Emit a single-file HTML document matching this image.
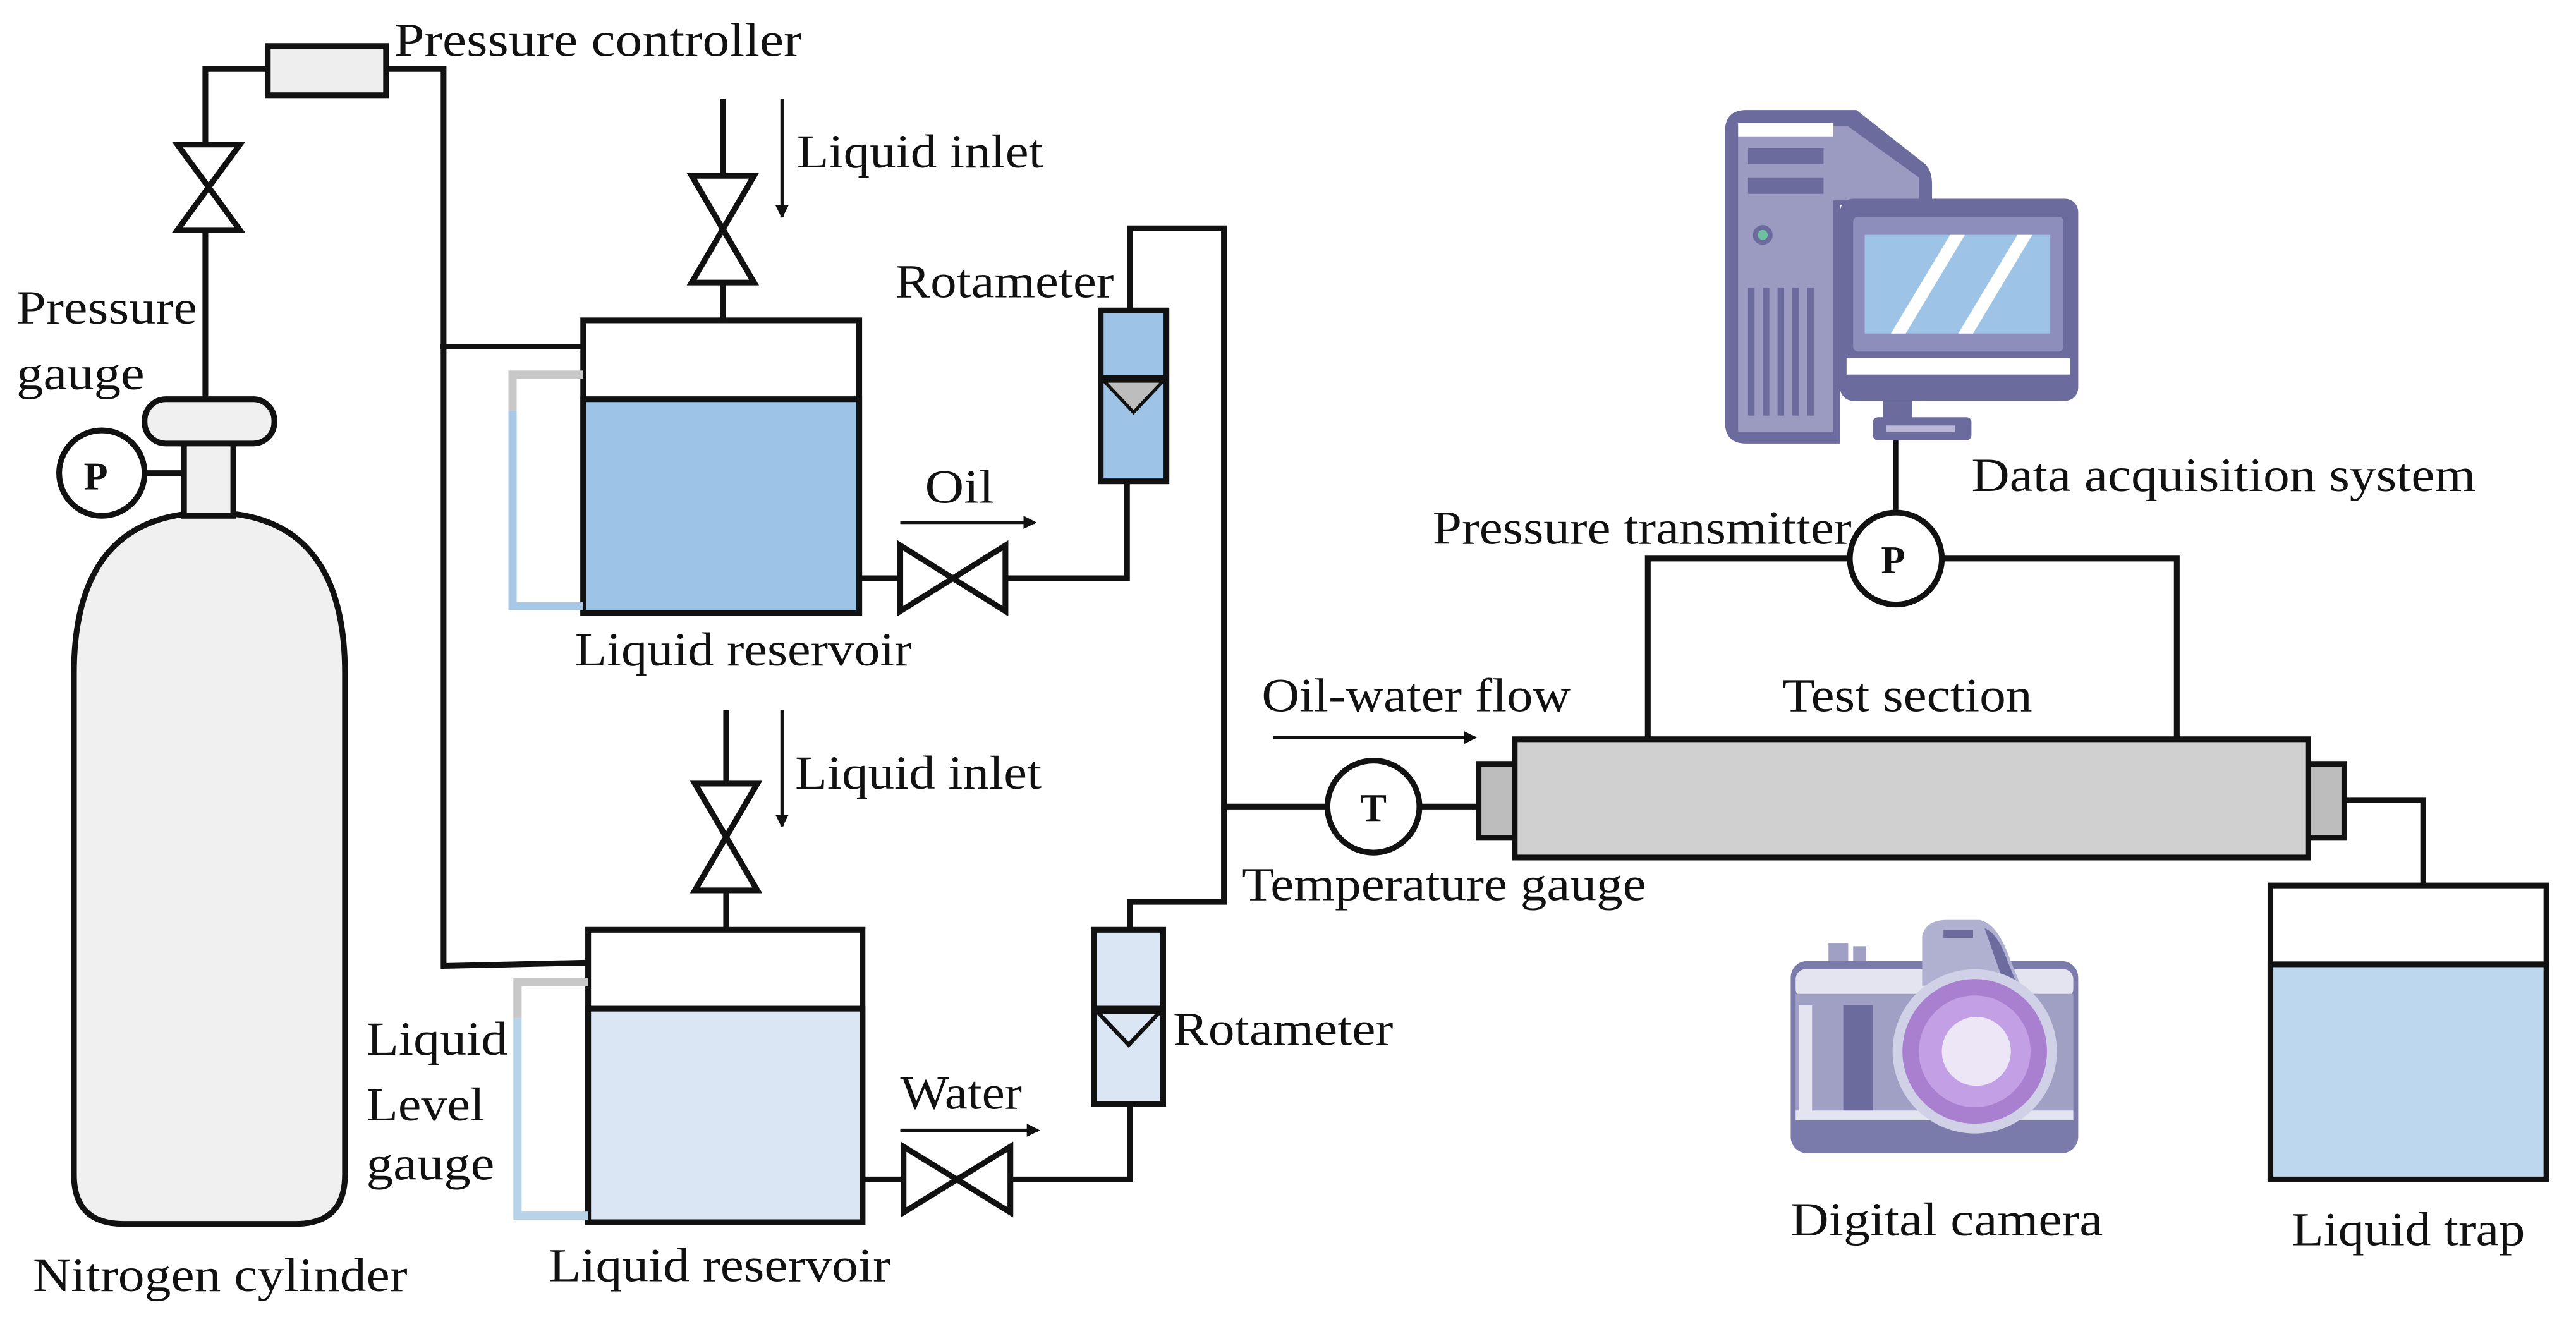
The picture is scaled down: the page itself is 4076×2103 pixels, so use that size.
<!DOCTYPE html>
<html><head><meta charset="utf-8"><style>
html,body{margin:0;padding:0;background:#fff;}
svg{display:block;}
text{font-family:"Liberation Serif","Times New Roman",serif;font-size:29px;fill:#111;}
</style></head><body>
<svg width="4076" height="2103" viewBox="0 0 1568 809" preserveAspectRatio="none" xmlns="http://www.w3.org/2000/svg" font-family="Liberation Serif, serif">
<defs>
<marker id="ah" markerWidth="8" markerHeight="8" refX="7" refY="4" orient="auto" markerUnits="userSpaceOnUse"><path d="M0,0 L8,4 L0,8 z" fill="#111"/></marker>
</defs>
<g stroke="#111" stroke-width="3.5" fill="none">
<!-- cylinder -->
<path d="M128,312 Q210,312 210,410 L210,715 Q210,745 180,745 L75,745 Q45,745 45,715 L45,410 Q45,312 128,312 Z" fill="#f0f0f0"/>
<rect x="112" y="266" width="30" height="48" fill="#f0f0f0"/>
<rect x="88" y="243" width="79" height="27" rx="13" fill="#f0f0f0"/>
<circle cx="62" cy="288" r="26" fill="#fff"/>
<line x1="88" y1="288" x2="112" y2="288"/>
<!-- gas line -->
<polyline points="125,243 125,140"/>
<path d="M108,88 L146,88 L108,140 L146,140 Z" fill="#fff"/>
<polyline points="125,88 125,42 163,42"/>
<rect x="163" y="28" width="72" height="30" fill="#eee"/>
<polyline points="235,42 270,42 270,588 358,586"/>
<line x1="268" y1="211" x2="355" y2="211"/>
<!-- upper reservoir -->
<rect x="355" y="195" width="168" height="178" fill="#fff"/>
<rect x="355" y="243" width="168" height="130" fill="#9dc3e6"/>
<!-- upper inlet -->
<line x1="440" y1="60" x2="440" y2="107"/>
<path d="M421,107 L459,107 L421,172 L459,172 Z" fill="#fff"/>
<line x1="440" y1="172" x2="440" y2="195"/>
<line x1="476" y1="60" x2="476" y2="132" stroke-width="2" marker-end="url(#ah)"/>
<!-- oil line -->
<line x1="523" y1="352" x2="548" y2="352"/>
<path d="M548,332 L548,372 L612,332 L612,372 Z" fill="#fff"/>
<polyline points="612,352 686,352 686,293"/>
<line x1="548" y1="318" x2="630" y2="318" stroke-width="2" marker-end="url(#ah)"/>
<rect x="670" y="189" width="40" height="104" fill="#9dc3e6"/>
<line x1="670" y1="230" x2="710" y2="230"/>
<path d="M672,232 L708,232 L690,251 Z" fill="#bdbdbd" stroke-width="2"/>
<polyline points="688,189 688,139 745,139 745,491 808,491"/>
<!-- lower reservoir -->
<rect x="358" y="566" width="167" height="178" fill="#fff"/>
<rect x="358" y="614" width="167" height="130" fill="#dae6f3"/>
<line x1="442" y1="432" x2="442" y2="477"/>
<path d="M423,477 L461,477 L423,542 L461,542 Z" fill="#fff"/>
<line x1="442" y1="542" x2="442" y2="566"/>
<line x1="476" y1="432" x2="476" y2="503" stroke-width="2" marker-end="url(#ah)"/>
<line x1="525" y1="718" x2="550" y2="718"/>
<path d="M550,698 L550,738 L615,698 L615,738 Z" fill="#fff"/>
<polyline points="615,718 688,718 688,672"/>
<line x1="548" y1="688" x2="632" y2="688" stroke-width="2" marker-end="url(#ah)"/>
<rect x="666" y="566" width="42" height="106" fill="#dae6f3"/>
<line x1="666" y1="614" x2="708" y2="614"/>
<path d="M668,616 L706,616 L687,636 Z" fill="#dae6f3" stroke-width="2.5"/>
<polyline points="688,566 688,549 745,549 745,491"/>
<!-- T and test section -->
<circle cx="836" cy="491" r="28" fill="#fff"/>
<line x1="864" y1="491" x2="900" y2="491"/>
<line x1="775" y1="449" x2="898" y2="449" stroke-width="2" marker-end="url(#ah)"/>
<rect x="900" y="465" width="22" height="45" fill="#bdbdbd"/>
<rect x="1405" y="465" width="22" height="45" fill="#bdbdbd"/>
<rect x="922" y="450" width="483" height="72" fill="#d0d0d0"/>
<polyline points="1003,450 1003,340 1126,340"/>
<polyline points="1325,450 1325,340 1182,340"/>
<circle cx="1154" cy="340" r="28" fill="#fff"/>
<line x1="1154" y1="312" x2="1154" y2="253" stroke-width="3"/>
<polyline points="1427,487 1475,487 1475,563"/>
<!-- liquid trap -->
<rect x="1382" y="539" width="168" height="179" fill="#fff"/>
<rect x="1382" y="587" width="168" height="131" fill="#bdd7ee"/>
</g>
<!-- level gauges -->
<g fill="none" stroke-width="5">
<polyline points="355,228 312,228 312,250" stroke="#c8c8c8"/>
<polyline points="312,250 312,369 355,369" stroke="#a9c8e6"/>
<polyline points="358,598 315,598 315,620" stroke="#c8c8c8"/>
<polyline points="315,620 315,740 358,740" stroke="#b8d2ea"/>
</g>
<!-- computer -->
<g>
<path d="M1050,80 Q1050,67 1063,67 L1130,67 L1172,100 Q1176,104 1176,112 L1176,125 L1120,125 L1120,270 L1063,270 Q1050,270 1050,257 Z" fill="#6b6b9e"/>
<rect x="1058" y="75" width="58" height="188" fill="#9b9bc2"/>
<rect x="1058" y="75" width="58" height="8" fill="#fff"/>
<rect x="1064" y="90" width="46" height="10" fill="#6b6b9e"/>
<rect x="1064" y="108" width="46" height="10" fill="#6b6b9e"/>
<circle cx="1073" cy="143" r="6" fill="#6b6b9e"/><circle cx="1073" cy="143" r="3" fill="#6fc0a0"/>
<g fill="#6b6b9e"><rect x="1064" y="175" width="4" height="78"/><rect x="1073" y="175" width="4" height="78"/><rect x="1082" y="175" width="4" height="78"/><rect x="1091" y="175" width="4" height="78"/><rect x="1100" y="175" width="4" height="78"/></g>
<path d="M1116,77 L1125,77 L1168,108 L1168,122 L1116,122 Z" fill="#9b9bc2"/>
<rect x="1120" y="121" width="145" height="123" rx="8" fill="#6b6b9e"/>
<rect x="1128" y="132" width="128" height="82" rx="3" fill="#8e8ebd"/>
<rect x="1135" y="143" width="113" height="60" fill="#9dc3e6"/>
<path d="M1151,203 L1160,203 L1196,143 L1187,143 Z M1192,203 L1201,203 L1237,143 L1228,143 Z" fill="#fff"/>
<rect x="1124" y="218" width="136" height="10" fill="#fff"/>
<rect x="1146" y="244" width="18" height="12" fill="#6b6b9e"/>
<rect x="1140" y="254" width="60" height="14" rx="3" fill="#6b6b9e"/>
<rect x="1148" y="259" width="42" height="4" fill="#b8b8d6"/>
</g>
<!-- camera -->
<g>
<rect x="1090" y="585" width="175" height="117" rx="10" fill="#7b7bab"/>
<rect x="1093" y="590" width="169" height="18" rx="6" fill="#e4e4f0"/>
<rect x="1093" y="605" width="169" height="75" fill="#a0a0c4"/>
<rect x="1095" y="612" width="8" height="65" fill="#e4e4f0"/>
<rect x="1122" y="612" width="18" height="68" fill="#6b6b9e"/>
<rect x="1093" y="676" width="169" height="6" fill="#e4e4f0"/>
<rect x="1113" y="574" width="12" height="11" fill="#a0a0c4"/>
<rect x="1128" y="576" width="8" height="9" fill="#a0a0c4"/>
<path d="M1170,590 L1170,570 Q1172,560 1185,560 L1205,560 Q1215,562 1222,580 L1230,600 L1170,600 Z" fill="#b0b0d0"/>
<path d="M1208,565 Q1216,568 1222,585 L1230,605 L1222,605 Z" fill="#6b6b9e"/>
<rect x="1183" y="566" width="18" height="5" fill="#6b6b9e"/>
<circle cx="1202" cy="640" r="50" fill="#d0d0e6"/>
<circle cx="1202" cy="640" r="44" fill="#a97fd0"/>
<circle cx="1202" cy="640" r="34" fill="#c3a0e6"/>
<circle cx="1203" cy="640" r="21" fill="#ece6f6"/>
</g>
<!-- labels -->
<text x="240" y="34" textLength="248" lengthAdjust="spacingAndGlyphs">Pressure controller</text>
<text x="485" y="102" textLength="150" lengthAdjust="spacingAndGlyphs">Liquid inlet</text>
<text x="10" y="197" textLength="110" lengthAdjust="spacingAndGlyphs">Pressure</text>
<text x="10" y="237" textLength="78" lengthAdjust="spacingAndGlyphs">gauge</text>
<text x="51" y="298" style="font-weight:bold;font-size:24px">P</text>
<text x="545" y="181" textLength="133" lengthAdjust="spacingAndGlyphs">Rotameter</text>
<text x="563" y="306" textLength="42" lengthAdjust="spacingAndGlyphs">Oil</text>
<text x="350" y="405" textLength="205" lengthAdjust="spacingAndGlyphs">Liquid reservoir</text>
<text x="484" y="480" textLength="150" lengthAdjust="spacingAndGlyphs">Liquid inlet</text>
<text x="223" y="642" textLength="86" lengthAdjust="spacingAndGlyphs">Liquid</text>
<text x="223" y="682" textLength="72" lengthAdjust="spacingAndGlyphs">Level</text>
<text x="223" y="718" textLength="78" lengthAdjust="spacingAndGlyphs">gauge</text>
<text x="548" y="675" textLength="74" lengthAdjust="spacingAndGlyphs">Water</text>
<text x="714" y="636" textLength="134" lengthAdjust="spacingAndGlyphs">Rotameter</text>
<text x="334" y="780" textLength="208" lengthAdjust="spacingAndGlyphs">Liquid reservoir</text>
<text x="20" y="786" textLength="228" lengthAdjust="spacingAndGlyphs">Nitrogen cylinder</text>
<text x="1200" y="299" textLength="307" lengthAdjust="spacingAndGlyphs">Data acquisition system</text>
<text x="872" y="331" textLength="255" lengthAdjust="spacingAndGlyphs">Pressure transmitter</text>
<text x="1145" y="349" style="font-weight:bold;font-size:24px">P</text>
<text x="768" y="433" textLength="188" lengthAdjust="spacingAndGlyphs">Oil-water flow</text>
<text x="1085" y="433" textLength="152" lengthAdjust="spacingAndGlyphs">Test section</text>
<text x="828" y="500" style="font-weight:bold;font-size:24px">T</text>
<text x="756" y="548" textLength="246" lengthAdjust="spacingAndGlyphs">Temperature gauge</text>
<text x="1090" y="752" textLength="190" lengthAdjust="spacingAndGlyphs">Digital camera</text>
<text x="1395" y="758" textLength="142" lengthAdjust="spacingAndGlyphs">Liquid trap</text>
</svg>
</body></html>
